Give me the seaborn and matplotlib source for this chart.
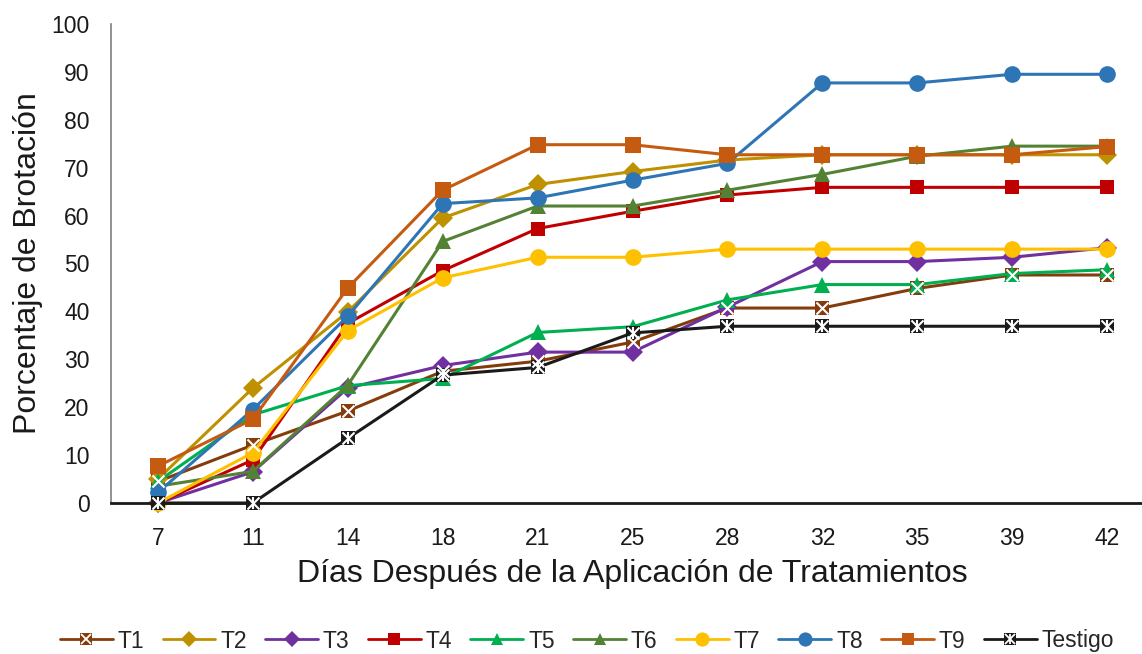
import matplotlib
matplotlib.use("Agg")
import matplotlib.pyplot as plt
import seaborn as sns
import pandas as pd
import numpy as np
from matplotlib.lines import Line2D
from matplotlib.legend_handler import HandlerTuple

days = ["7", "11", "14", "18", "21", "25", "28", "32", "35", "39", "42"]
series_names = ["T1", "T2", "T3", "T4", "T5", "T6", "T7", "T8", "T9", "Testigo"]

T1 = [4.5, 12.1, 19.2, 27.5, 29.6, 33.6, 40.7, 40.7, 44.8, 47.6, 47.6]
T2 = [5.0, 24.0, 39.9, 59.5, 66.5, 69.2, 71.6, 72.7, 72.7, 72.7, 72.7]
T3 = [0.0, 6.5, 24.0, 28.7, 31.5, 31.5, 40.9, 50.4, 50.4, 51.3, 53.3]
T4 = [0.0, 9.0, 37.5, 48.5, 57.3, 60.9, 64.3, 65.9, 65.9, 65.9, 65.9]
T5 = [4.5, 18.4, 24.5, 26.0, 35.6, 36.8, 42.4, 45.6, 45.6, 47.9, 48.7]
T6 = [3.5, 6.6, 24.6, 54.6, 62.0, 62.0, 65.3, 68.6, 72.4, 74.5, 74.5]
T7 = [0.0, 10.5, 36.0, 47.0, 51.3, 51.3, 53.0, 53.0, 53.0, 53.0, 53.0]
T8 = [2.2, 19.5, 39.0, 62.5, 63.7, 67.4, 70.9, 87.7, 87.7, 89.5, 89.5]
T9 = [7.7, 17.5, 44.9, 65.3, 74.8, 74.8, 72.7, 72.7, 72.7, 72.7, 74.4]
Testigo = [0.0, 0.0, 13.5, 26.7, 28.3, 35.5, 36.9, 36.9, 36.9, 36.9, 36.9]

values = [T1, T2, T3, T4, T5, T6, T7, T8, T9, Testigo]
colors = ["#843C0C", "#BF9000", "#7030A0", "#C00000", "#00B050",
          "#548235", "#FFC000", "#2E75B6", "#C55A11", "#1A1A1A"]
markers = ["s", "D", "D", "s", "^", "^", "o", "o", "s", "s"]
msizes = [10, 10, 10, 10, 11, 11, 12, 12, 11, 10]

sns.set_theme(style="white")
plt.rcParams["font.family"] = ["Liberation Sans", "DejaVu Sans"]

fig = plt.figure(figsize=(11.42, 6.54), dpi=100)
ax = fig.add_axes([110.5 / 1142, (654 - 503) / 654, 1044 / 1142, 479 / 654])

pos = np.arange(len(days))
rows = []
for name, vals in zip(series_names, values):
    for p, v in zip(pos, vals):
        rows.append({"pos": p, "value": v, "series": name})
df = pd.DataFrame(rows)

handles = []
for name, col, mk, ms in zip(series_names, colors, markers, msizes):
    sub = df[df["series"] == name]
    sns.lineplot(data=sub, x="pos", y="value", color=col, marker=mk,
                 markersize=ms, markeredgewidth=0, linewidth=2.2, ax=ax,
                 legend=False, clip_on=False)
    h = Line2D([], [], color=col, marker=mk, markersize=ms * 0.85,
               markeredgewidth=0, linewidth=2.0)
    if name in ("T1", "Testigo"):
        sns.scatterplot(data=sub, x="pos", y="value", marker="x", color="white",
                        s=75, linewidth=1.5, ax=ax, legend=False, zorder=5,
                        clip_on=False)
        ov = [Line2D([], [], color="white", marker="x", markersize=7,
                     markeredgewidth=1.3, linestyle="none")]
        if name == "Testigo":
            sns.scatterplot(data=sub, x="pos", y="value", marker="|", color="white",
                            s=75, linewidth=1.5, ax=ax, legend=False, zorder=5,
                            clip_on=False)
            ov.append(Line2D([], [], color="white", marker="|", markersize=7,
                             markeredgewidth=1.3, linestyle="none"))
        handles.append(tuple([h] + ov))
    else:
        handles.append(h)

ax.set_xlim(-0.5, len(days) - 0.5)
ax.set_ylim(0, 100)
ax.set_xticks(pos)
ax.set_xticklabels(days)
ax.set_yticks(np.arange(0, 101, 10))
ax.tick_params(axis="both", length=0, labelsize=16.5, colors="#1A1A1A")
ax.tick_params(axis="x", pad=17)
ax.tick_params(axis="y", pad=15)

for s in ["top", "right"]:
    ax.spines[s].set_visible(False)
ax.spines["left"].set_color("#7F7F7F")
ax.spines["left"].set_linewidth(1.2)
ax.spines["bottom"].set_color("#1A1A1A")
ax.spines["bottom"].set_linewidth(2.0)

ax.set_xlabel("Días Después de la Aplicación de Tratamientos", fontsize=23,
              color="#1A1A1A", va="center")
ax.xaxis.set_label_coords(0.5, -0.148)
ax.set_ylabel("Porcentaje de Brotación", fontsize=23, color="#1A1A1A", va="center")
ax.yaxis.set_label_coords(-0.079, 0.5)

fig.legend(handles, series_names, loc="center",
           bbox_to_anchor=(587 / 1142, 1 - 641 / 654), ncol=10, frameon=False,
           fontsize=16.5, handlelength=2.3, handletextpad=0.22, columnspacing=0.8,
           handler_map={tuple: HandlerTuple(ndivide=1, pad=0)})

fig.savefig("out.png", dpi=100)
